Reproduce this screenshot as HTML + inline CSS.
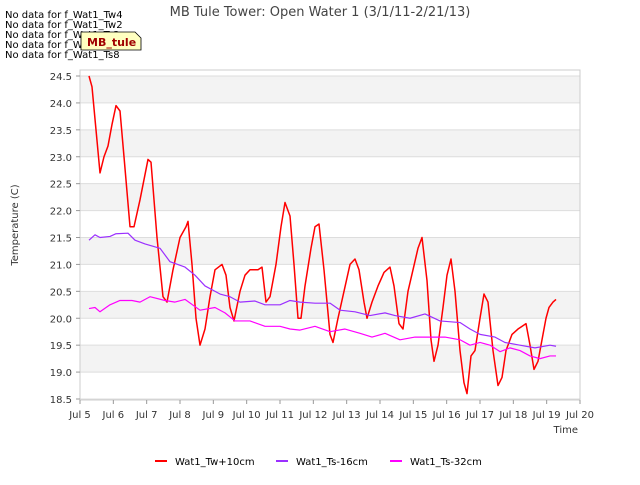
<!DOCTYPE html>
<html><head><meta charset="utf-8"><style>
body{margin:0;background:#fff}
svg text{font-family:"DejaVu Sans","Liberation Sans",sans-serif}
</style></head><body>
<svg id="c" width="640" height="480" viewBox="0 0 640 480" xmlns="http://www.w3.org/2000/svg">
<g id="grid"></g>
<g id="series"></g>
<rect x="80" y="70" width="500" height="330" fill="none" stroke="#ccc"/>
<g id="axes"></g>
<text x="320" y="16" text-anchor="middle" font-size="13" fill="#444">MB Tule Tower: Open Water 1 (3/1/11-2/21/13)</text>
<text x="18" y="225" transform="rotate(-90 18 225)" text-anchor="middle" font-size="10" fill="#333">Temperature (C)</text>
<text x="578" y="433" text-anchor="end" font-size="10" fill="#333">Time</text>
<g font-size="10" fill="#000">
<text x="5" y="18">No data for f_Wat1_Tw4</text>
<text x="5" y="28">No data for f_Wat1_Tw2</text>
<text x="5" y="38">No data for f_Wat1_Ts2</text>
<text x="5" y="48">No data for f_Wat1_Ts4</text>
<text x="5" y="58">No data for f_Wat1_Ts8</text>
</g>
<g>
<path d="M81,32 L135,32 L141,38 L141,50 L81,50 Z" fill="#ffffc0" stroke="#000" stroke-width="0.8"/>
<text x="87" y="46" font-size="11" font-weight="bold" fill="#a00000">MB_tule</text>
</g>
<g id="legend"></g>
</svg>
<script>
const redDays=[5.27,5.36,5.48,5.60,5.72,5.84,5.96,6.08,6.20,6.32,6.50,6.62,6.80,7.04,7.13,7.31,7.49,7.61,7.79,8.00,8.18,8.24,8.36,8.48,8.60,8.75,8.90,9.05,9.26,9.38,9.50,9.62,9.80,9.95,10.10,10.34,10.46,10.58,10.70,10.88,11.03,11.15,11.30,11.42,11.54,11.63,11.75,11.93,12.05,12.17,12.32,12.50,12.59,12.74,12.92,13.10,13.25,13.37,13.52,13.61,13.76,13.94,14.12,14.30,14.42,14.57,14.69,14.84,14.99,15.14,15.26,15.41,15.53,15.62,15.74,15.89,16.01,16.13,16.25,16.40,16.52,16.61,16.73,16.85,17.00,17.12,17.24,17.39,17.54,17.66,17.78,17.96,18.14,18.26,18.38,18.50,18.62,18.74,18.86,18.98,19.07,19.19,19.28];
const redVals=[24.5,24.3,23.5,22.7,23.0,23.2,23.6,23.95,23.85,23.0,21.7,21.7,22.2,22.95,22.9,21.5,20.4,20.3,20.9,21.5,21.7,21.8,21.0,20.0,19.5,19.8,20.4,20.9,21.0,20.8,20.2,19.95,20.5,20.8,20.9,20.9,20.95,20.3,20.4,21.0,21.7,22.15,21.9,21.0,20.0,20.0,20.6,21.3,21.7,21.75,20.9,19.7,19.55,20.0,20.5,21.0,21.1,20.9,20.3,20.0,20.3,20.6,20.85,20.95,20.6,19.9,19.8,20.5,20.9,21.3,21.5,20.7,19.6,19.2,19.5,20.2,20.8,21.1,20.5,19.4,18.8,18.6,19.3,19.4,20.0,20.45,20.3,19.4,18.75,18.9,19.4,19.7,19.8,19.85,19.9,19.5,19.05,19.2,19.6,20.0,20.2,20.3,20.35];
const purDays=[5.27,5.45,5.6,5.9,6.08,6.44,6.65,6.95,7.4,7.7,8.15,8.45,8.75,9.2,9.5,9.8,10.25,10.55,11.0,11.3,11.6,12.05,12.5,12.8,13.25,13.7,14.15,14.45,14.9,15.35,15.8,16.4,16.7,17.0,17.45,17.75,18.2,18.65,19.1,19.28];
const purVals=[21.45,21.55,21.5,21.52,21.57,21.58,21.45,21.38,21.3,21.05,20.95,20.8,20.6,20.45,20.4,20.3,20.32,20.25,20.25,20.33,20.3,20.28,20.28,20.15,20.12,20.05,20.1,20.05,20.0,20.08,19.95,19.92,19.8,19.7,19.65,19.55,19.5,19.45,19.5,19.48];
const magDays=[5.27,5.45,5.6,5.9,6.2,6.56,6.8,7.1,7.55,7.85,8.15,8.6,9.05,9.35,9.65,10.1,10.55,11.0,11.3,11.6,12.05,12.5,12.95,13.4,13.76,14.15,14.6,15.05,15.5,15.95,16.4,16.7,17.0,17.3,17.6,17.9,18.2,18.5,18.8,19.1,19.28];
const magVals=[20.18,20.2,20.12,20.25,20.33,20.33,20.3,20.4,20.33,20.3,20.35,20.15,20.2,20.1,19.95,19.95,19.85,19.85,19.8,19.78,19.85,19.75,19.8,19.72,19.65,19.72,19.6,19.65,19.65,19.65,19.6,19.5,19.55,19.5,19.38,19.45,19.4,19.3,19.25,19.3,19.3];
const yTicks=[18.5,19.0,19.5,20.0,20.5,21.0,21.5,22.0,22.5,23.0,23.5,24.0,24.5];
const xTicks=[5,6,7,8,9,10,11,12,13,14,15,16,17,18,19,20];
const xTickLabels=["Jul 5","Jul 6","Jul 7","Jul 8","Jul 9","Jul 10","Jul 11","Jul 12","Jul 13","Jul 14","Jul 15","Jul 16","Jul 17","Jul 18","Jul 19","Jul 20"];
const seriesNames=["Wat1_Tw+10cm","Wat1_Ts-16cm","Wat1_Ts-32cm"];

const NS="http://www.w3.org/2000/svg";
const X=d=>80+(d-5)*(500/15);
const Y=v=>399-(v-18.5)*(323/6);
function mk(t,a,p){const e=document.createElementNS(NS,t);for(const k in a)e.setAttribute(k,a[k]);p.appendChild(e);return e;}
const grid=document.getElementById('grid'),axes=document.getElementById('axes'),ser=document.getElementById('series'),leg=document.getElementById('legend');
for(let i=0;i<yTicks.length-1;i++){
  if(i%2===1){const r=mk('rect',{x:80,y:Y(yTicks[i+1]),width:500,height:Y(yTicks[i])-Y(yTicks[i+1]),fill:'#f3f3f3'},grid);
  
  }
}
yTicks.forEach(v=>{
  const l=mk('line',{x1:80,x2:580,y1:Y(v),y2:Y(v),stroke:'#ddd'},grid);
  
  
  const t=mk('text',{x:72,y:Y(v)+4,'text-anchor':'end','font-size':'10',fill:'#333'},axes);
  t.textContent=v.toFixed(1);
  
  
  mk('line',{x1:76,x2:80,y1:Y(v),y2:Y(v),stroke:'#999'},axes);
});
xTicks.forEach((d,i)=>{
  mk('line',{x1:X(d),x2:X(d),y1:400,y2:404,stroke:'#999'},axes);
  const t=mk('text',{x:X(d),y:418,'text-anchor':'middle','font-size':'10',fill:'#333'},axes);
  t.textContent=xTickLabels[i];
  
  
});
const sets=[[redDays,redVals,'#ff0000'],[purDays,purVals,'#9b30ff'],[magDays,magVals,'#ff00ff']];
sets.forEach((s,k)=>{
  const p=mk('polyline',{points:s[0].map((d,i)=>X(d)+','+Y(s[1][i])).join(' '),fill:'none',stroke:s[2],'stroke-width':k===0?1.5:1.2,'stroke-linejoin':'round'},ser);
  
  
});
const lx=[155,276,390];
seriesNames.forEach((n,k)=>{
  const g=mk('g',{},leg);
  
  
  mk('line',{x1:lx[k],x2:lx[k]+12,y1:461,y2:461,stroke:sets[k][2],'stroke-width':2},g);
  const t=mk('text',{x:lx[k]+20,y:465,'font-size':'10',fill:'#000'},g);
  t.textContent=n;
});
</script>
</body></html>
